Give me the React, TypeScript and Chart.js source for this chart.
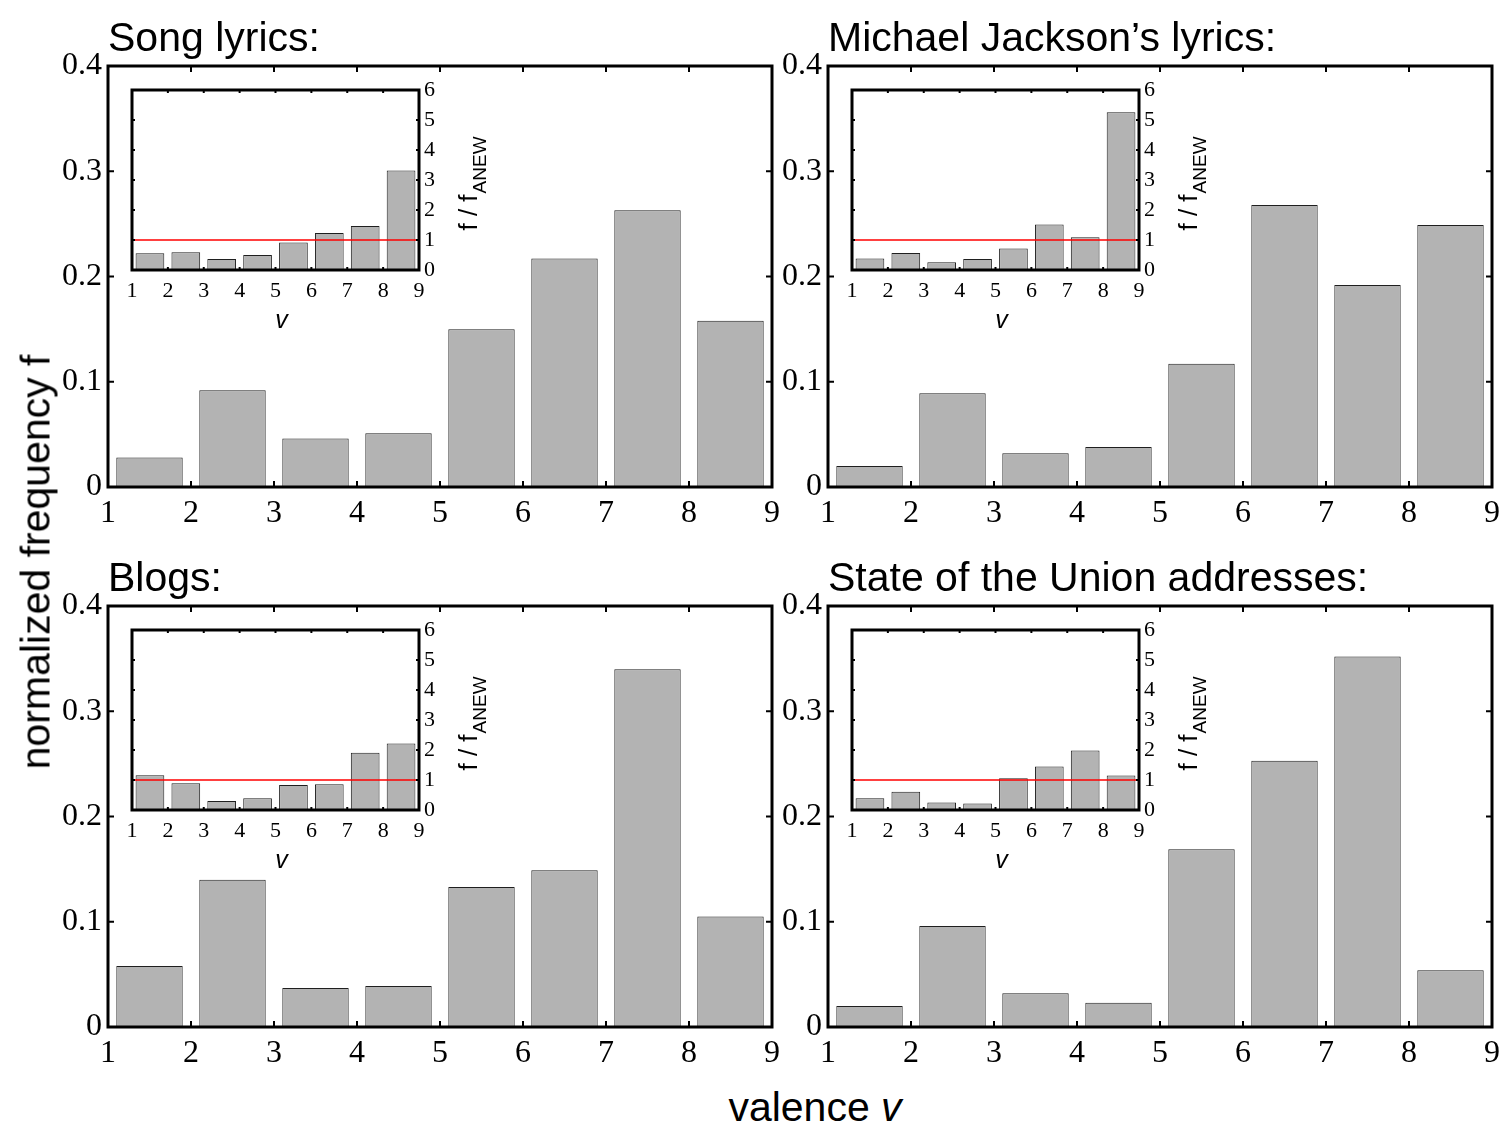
import React, { useEffect, useRef } from 'react';
import { Chart, registerables } from 'chart.js';

Chart.register(...registerables);

// ---------------- data ----------------
const binCenters = [1.5, 2.5, 3.5, 4.5, 5.5, 6.5, 7.5, 8.5];
const valenceRange = [1, 9];
const xTickLabels = ['1', '2', '3', '4', '5', '6', '7', '8', '9'];
const freqTickLabels = ['0', '0.1', '0.2', '0.3', '0.4'];
const ratioTickLabels = ['0', '1', '2', '3', '4', '5', '6'];
const freqRange = [0, 0.4];
const ratioRange = [0, 6];
const ratioBaseline = 1;

const songLyricsFreq = [0.028, 0.092, 0.046, 0.051, 0.15, 0.217, 0.263, 0.158];
const songLyricsRatio = [0.56, 0.59, 0.37, 0.5, 0.92, 1.23, 1.47, 3.32];
const jacksonFreq = [0.02, 0.089, 0.032, 0.038, 0.117, 0.268, 0.192, 0.249];
const jacksonRatio = [0.38, 0.57, 0.26, 0.37, 0.72, 1.52, 1.09, 5.26];
const blogsFreq = [0.058, 0.14, 0.037, 0.039, 0.133, 0.149, 0.34, 0.105];
const blogsRatio = [1.16, 0.89, 0.3, 0.39, 0.83, 0.86, 1.91, 2.22];
const unionFreq = [0.02, 0.096, 0.032, 0.023, 0.169, 0.253, 0.352, 0.054];
const unionRatio = [0.39, 0.61, 0.25, 0.22, 1.06, 1.45, 1.98, 1.15];

const panelTitles = [
  'Song lyrics:',
  'Michael Jackson\u2019s lyrics:',
  'Blogs:',
  'State of the Union addresses:',
];
const yAxisTitle = 'normalized frequency f';
const xAxisTitle = 'valence';
const xAxisSymbol = 'v';
const insetYTitle = 'f / f';
const insetYSub = 'ANEW';
const insetXTitle = 'v';

// ---------------- layout & style ----------------
const SERIF = "'Liberation Serif', 'Times New Roman', Times, serif";
const SANS = "'Liberation Sans', Arial, Helvetica, sans-serif";
const BAR_FILL = '#b3b3b3';
const BAR_EDGE = '#1f1f1f';

const MAIN_W = 664;
const MAIN_H = 421;
const MAIN_Y_AXIS_W = 72;
const MAIN_X_AXIS_H = 50;
const MAIN_PAD_TOP = 66;
const MAIN_PAD_RIGHT = 17;

const INSET_W = 287;
const INSET_H = 180;
const INSET_PAD = 24;
const INSET_Y_AXIS_W = 80;
const INSET_X_AXIS_H = 70;
const INSET_OFFSET = 24;

const panelLayout = [
  { plotLeft: 108, plotTop: 66 },
  { plotLeft: 828, plotTop: 66 },
  { plotLeft: 108, plotTop: 606 },
  { plotLeft: 828, plotTop: 606 },
];

const panelFreq = [songLyricsFreq, jacksonFreq, blogsFreq, unionFreq];
const panelRatio = [songLyricsRatio, jacksonRatio, blogsRatio, unionRatio];

// ---------------- plugins ----------------
const framePlugin = {
  id: 'frame',
  beforeDatasetsDraw(chart: any, _a: any, opts: any) {
    if (!opts.background) return;
    const { ctx, chartArea: ca } = chart;
    ctx.save();
    ctx.fillStyle = opts.background;
    ctx.fillRect(ca.left, ca.top, ca.right - ca.left, ca.bottom - ca.top);
    ctx.restore();
  },
  afterDatasetsDraw(chart: any, _a: any, opts: any) {
    const { ctx, chartArea: ca } = chart;
    const xs = chart.scales.x;
    const ys = chart.scales.y;
    const len = opts.tickLength;
    ctx.save();
    ctx.strokeStyle = '#000';
    ctx.lineWidth = opts.tickWidth;
    ctx.beginPath();
    xs.ticks.forEach((t: any) => {
      if (t.value <= xs.min || t.value >= xs.max) return;
      const px = xs.getPixelForValue(t.value);
      ctx.moveTo(px, ca.bottom);
      ctx.lineTo(px, ca.bottom - len);
      ctx.moveTo(px, ca.top);
      ctx.lineTo(px, ca.top + len);
    });
    ys.ticks.forEach((t: any) => {
      if (t.value <= ys.min || t.value >= ys.max) return;
      const py = ys.getPixelForValue(t.value);
      ctx.moveTo(ca.left, py);
      ctx.lineTo(ca.left + len, py);
      ctx.moveTo(ca.right, py);
      ctx.lineTo(ca.right - len, py);
    });
    ctx.stroke();
    ctx.lineWidth = opts.frameWidth;
    ctx.strokeRect(ca.left, ca.top, ca.right - ca.left, ca.bottom - ca.top);
    ctx.restore();
  },
};

const panelTitlePlugin = {
  id: 'panelTitle',
  afterDraw(chart: any, _a: any, opts: any) {
    const { ctx, chartArea: ca } = chart;
    ctx.save();
    ctx.font = `41px ${SANS}`;
    ctx.fillStyle = '#000';
    ctx.textAlign = 'left';
    ctx.textBaseline = 'alphabetic';
    ctx.fillText(opts.text, ca.left, ca.top - 15);
    ctx.restore();
  },
};

const insetLabelPlugin = {
  id: 'insetLabels',
  afterDraw(chart: any) {
    const { ctx, chartArea: ca } = chart;
    ctx.save();
    ctx.fillStyle = '#000';
    ctx.textBaseline = 'alphabetic';
    ctx.textAlign = 'left';
    const mainFont = `26px ${SANS}`;
    const subFont = `19px ${SANS}`;
    ctx.font = mainFont;
    const w1 = ctx.measureText(insetYTitle).width;
    ctx.font = subFont;
    const w2 = ctx.measureText(insetYSub).width;
    ctx.translate(ca.right + 58, (ca.top + ca.bottom) / 2 + 4);
    ctx.rotate(-Math.PI / 2);
    const start = -(w1 + w2) / 2;
    ctx.font = mainFont;
    ctx.fillText(insetYTitle, start, 0);
    ctx.font = subFont;
    ctx.fillText(insetYSub, start + w1 + 1, 9);
    ctx.restore();

    ctx.save();
    ctx.fillStyle = '#000';
    ctx.font = `italic 25px ${SANS}`;
    ctx.textAlign = 'center';
    ctx.textBaseline = 'alphabetic';
    ctx.fillText(insetXTitle, (ca.left + ca.right) / 2 + 6, ca.bottom + 58);
    ctx.restore();
  },
};

// ---------------- components ----------------
function MainPanel({ title, freq, plotLeft, plotTop }: any) {
  const ref = useRef<HTMLCanvasElement>(null);
  const W = MAIN_Y_AXIS_W + MAIN_W + MAIN_PAD_RIGHT;
  const H = MAIN_PAD_TOP + MAIN_H + MAIN_X_AXIS_H;
  useEffect(() => {
    const chart = new Chart(ref.current as HTMLCanvasElement, {
      type: 'bar',
      data: {
        datasets: [
          {
            data: binCenters.map((x, i) => ({ x, y: freq[i] })),
            backgroundColor: BAR_FILL,
            borderColor: BAR_EDGE,
            borderWidth: 1,
            barPercentage: 0.8,
            categoryPercentage: 1,
          } as any,
        ],
      },
      options: {
        animation: false,
        responsive: false,
        maintainAspectRatio: false,
        events: [],
        layout: { padding: { left: 0, right: MAIN_PAD_RIGHT, top: MAIN_PAD_TOP, bottom: 0 } },
        plugins: {
          legend: { display: false },
          tooltip: { enabled: false },
          frame: { tickLength: 6, tickWidth: 2, frameWidth: 3 },
          panelTitle: { text: title },
        } as any,
        scales: {
          x: {
            type: 'linear',
            min: valenceRange[0],
            max: valenceRange[1],
            offset: false,
            grid: { display: false, drawTicks: false, offset: false },
            border: { display: false },
            ticks: {
              stepSize: 1,
              autoSkip: false,
              maxRotation: 0,
              padding: 7,
              color: '#000',
              font: { family: SERIF, size: 32 },
              callback: (_v: any, i: number) => xTickLabels[i],
            },
            afterFit: (s: any) => {
              s.height = MAIN_X_AXIS_H;
            },
          },
          y: {
            type: 'linear',
            min: freqRange[0],
            max: freqRange[1],
            grid: { display: false, drawTicks: false },
            border: { display: false },
            ticks: {
              stepSize: 0.1,
              padding: 6,
              color: '#000',
              font: { family: SERIF, size: 32 },
              callback: (_v: any, i: number) => freqTickLabels[i],
            },
            afterFit: (s: any) => {
              s.width = MAIN_Y_AXIS_W;
            },
          },
        } as any,
      },
      plugins: [framePlugin, panelTitlePlugin] as any,
    });
    return () => chart.destroy();
  }, []);
  return (
    <canvas
      ref={ref}
      width={W}
      height={H}
      style={{ position: 'absolute', left: plotLeft - MAIN_Y_AXIS_W, top: plotTop - MAIN_PAD_TOP, width: W, height: H }}
    />
  );
}

function InsetPanel({ ratio, left, top }: any) {
  const ref = useRef<HTMLCanvasElement>(null);
  const W = INSET_PAD + INSET_W + INSET_Y_AXIS_W;
  const H = INSET_PAD + INSET_H + INSET_X_AXIS_H;
  useEffect(() => {
    const chart = new Chart(ref.current as HTMLCanvasElement, {
      type: 'bar',
      data: {
        datasets: [
          {
            type: 'line',
            data: valenceRange.map((x) => ({ x, y: ratioBaseline })),
            borderColor: '#ff0000',
            borderWidth: 1.5,
            pointRadius: 0,
            fill: false,
          } as any,
          {
            type: 'bar',
            data: binCenters.map((x, i) => ({ x, y: ratio[i] })),
            backgroundColor: BAR_FILL,
            borderColor: BAR_EDGE,
            borderWidth: 1,
            barPercentage: 0.8,
            categoryPercentage: 1,
          } as any,
        ],
      },
      options: {
        animation: false,
        responsive: false,
        maintainAspectRatio: false,
        events: [],
        layout: { padding: { left: INSET_PAD, right: 0, top: INSET_PAD, bottom: 0 } },
        plugins: {
          legend: { display: false },
          tooltip: { enabled: false },
          frame: { tickLength: 3, tickWidth: 2, frameWidth: 3, background: '#ffffff' },
        } as any,
        scales: {
          x: {
            type: 'linear',
            min: valenceRange[0],
            max: valenceRange[1],
            offset: false,
            grid: { display: false, drawTicks: false, offset: false },
            border: { display: false },
            ticks: {
              stepSize: 1,
              autoSkip: false,
              maxRotation: 0,
              padding: 8,
              color: '#000',
              font: { family: SERIF, size: 22 },
              callback: (_v: any, i: number) => xTickLabels[i],
            },
            afterFit: (s: any) => {
              s.height = INSET_X_AXIS_H;
            },
          },
          y: {
            type: 'linear',
            position: 'right',
            min: ratioRange[0],
            max: ratioRange[1],
            grid: { display: false, drawTicks: false },
            border: { display: false },
            ticks: {
              stepSize: 1,
              padding: 5,
              color: '#000',
              font: { family: SERIF, size: 22 },
              callback: (_v: any, i: number) => ratioTickLabels[i],
            },
            afterFit: (s: any) => {
              s.width = INSET_Y_AXIS_W;
            },
          },
        } as any,
      },
      plugins: [framePlugin, insetLabelPlugin] as any,
    });
    return () => chart.destroy();
  }, []);
  return (
    <canvas
      ref={ref}
      width={W}
      height={H}
      style={{ position: 'absolute', left: left - INSET_PAD, top: top - INSET_PAD, width: W, height: H }}
    />
  );
}

export default function App() {
  return (
    <div
      style={{
        position: 'absolute',
        left: 0,
        top: 0,
        width: 1509,
        height: 1136,
        overflow: 'hidden',
        background: '#ffffff',
      }}
    >
      {panelLayout.map((p, i) => (
        <MainPanel key={'m' + i} title={panelTitles[i]} freq={panelFreq[i]} plotLeft={p.plotLeft} plotTop={p.plotTop} />
      ))}
      {panelLayout.map((p, i) => (
        <InsetPanel
          key={'i' + i}
          ratio={panelRatio[i]}
          left={p.plotLeft + INSET_OFFSET}
          top={p.plotTop + INSET_OFFSET}
        />
      ))}
      <div
        style={{
          position: 'absolute',
          left: 36,
          top: 562,
          transform: 'translate(-50%, -50%) rotate(-90deg)',
          font: `41px ${SANS}`,
          lineHeight: '41px',
          whiteSpace: 'nowrap',
          color: '#000',
        }}
      >
        {yAxisTitle}
      </div>
      <div
        style={{
          position: 'absolute',
          left: 815,
          top: 1087,
          transform: 'translateX(-50%)',
          font: `41px ${SANS}`,
          lineHeight: '41px',
          whiteSpace: 'nowrap',
          color: '#000',
        }}
      >
        {xAxisTitle} <i>{xAxisSymbol}</i>
      </div>
    </div>
  );
}
